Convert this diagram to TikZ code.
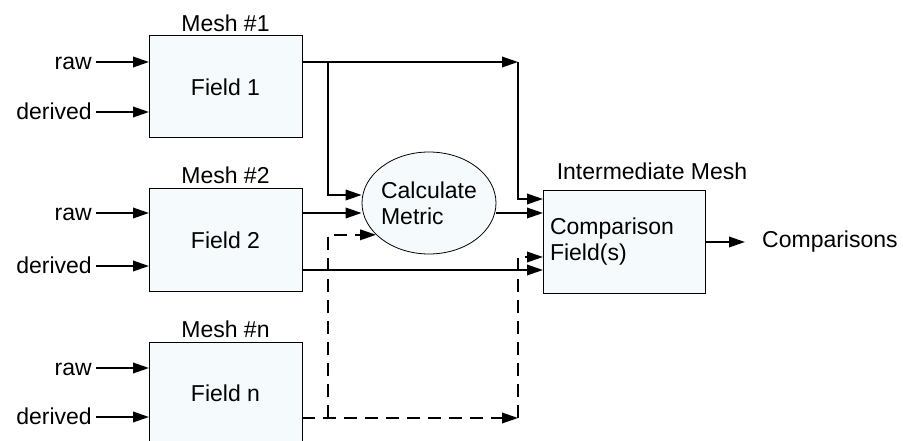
\documentclass[tikz,border=0pt]{standalone}
\usepackage{fontspec}
\setmainfont{Liberation Sans}
\usetikzlibrary{arrows.meta,shapes.geometric}
\definecolor{boxfill}{RGB}{245,250,252}
\begin{document}
\begin{tikzpicture}[x=1pt,y=-1pt,
  every node/.style={font=\fontsize{23}{26}\selectfont},
  fbox/.style={draw, line width=1pt, fill=boxfill, minimum width=153pt, minimum height=102pt, inner sep=0pt, outer sep=0pt},
  conn/.style={line width=1.9pt, -{Triangle[length=16pt,width=10.5pt]}},
  dconn/.style={conn, dash pattern=on 13pt off 8pt},
  inlbl/.style={anchor=east, inner sep=4pt, text height=15pt, text depth=0pt},
  meshlbl/.style={anchor=base, inner sep=0pt}]
\useasboundingbox (0,0) rectangle (903,441);
\clip (0,0) rectangle (903,441);

% field boxes
\node[fbox] (f1) at (225.5,87) {Field 1};
\node[fbox] (f2) at (225.5,240) {Field 2};
\node[fbox] (fn) at (225.5,393) {Field n};
\node[meshlbl] (m1) at (225.5,32) {Mesh \#1};
\node[meshlbl] (m2) at (225.5,184) {Mesh \#2};
\node[meshlbl] (mn) at (225.5,337) {Mesh \#n};

% inputs
\node[inlbl] (r1) at (96,62) {raw};
\node[inlbl] (d1) at (96,112) {derived};
\node[inlbl] (r2) at (96,213) {raw};
\node[inlbl] (d2) at (96,266) {derived};
\node[inlbl] (rn) at (96,368) {raw};
\node[inlbl] (dn) at (96,417) {derived};
\foreach \n in {r1,d1}{\draw[conn] (\n) -- (\n -| f1.west);}
\foreach \n in {r2,d2}{\draw[conn] (\n) -- (\n -| f2.west);}
\foreach \n in {rn,dn}{\draw[conn] (\n) -- (\n -| fn.west);}

% metric ellipse
\node[ellipse, draw, line width=0.8pt, fill=boxfill, minimum width=134pt, minimum height=102pt, inner sep=0pt] (cm) at (429,203) {};
\node[align=left, inner sep=0pt] (cmt) at (cm) {Calculate\\Metric};

% comparison box
\node[fbox, minimum width=162pt, text width=148pt, inner xsep=7pt, align=left] (cf) at (624,242) {Comparison\\Field(s)};
\node[meshlbl] (im) at (652,179) {Intermediate Mesh};
\node[anchor=west, inner xsep=17pt, inner ysep=0pt] (cmp) at (745,242) {Comparisons};

% helper coordinates
\coordinate (b1) at (328,62);
\coordinate (j1) at (518,62);
\coordinate (L195) at (0,195);
\coordinate (L199) at (0,199);
\coordinate (L213) at (0,213);
\coordinate (L257) at (0,257);
\coordinate (L270) at (0,270);
\coordinate (jd1) at (328,418);
\coordinate (jd2) at (518,418);

% solid connectors
\draw[conn] (f1.east |- j1) -- (j1);
\draw[conn] (b1) |- (cm.west |- L195);
\draw[conn] (j1) |- (cf.west |- L199);
\draw[conn] (f2.east |- L213) -- (cm.west |- L213);
\draw[conn] (cm.east |- L213) -- (cf.west |- L213);
\draw[conn] (f2.east |- L270) -- (cf.west |- L270);
\draw[conn] (cf.east) -- (cmp.west);

% dashed connectors
\draw[dconn] (fn.east |- jd2) -- (jd2);
\draw[dconn] (jd1) |- (cm.211.6);
\draw[dconn] (jd2) |- (cf.west |- L257);
\end{tikzpicture}
\end{document}
